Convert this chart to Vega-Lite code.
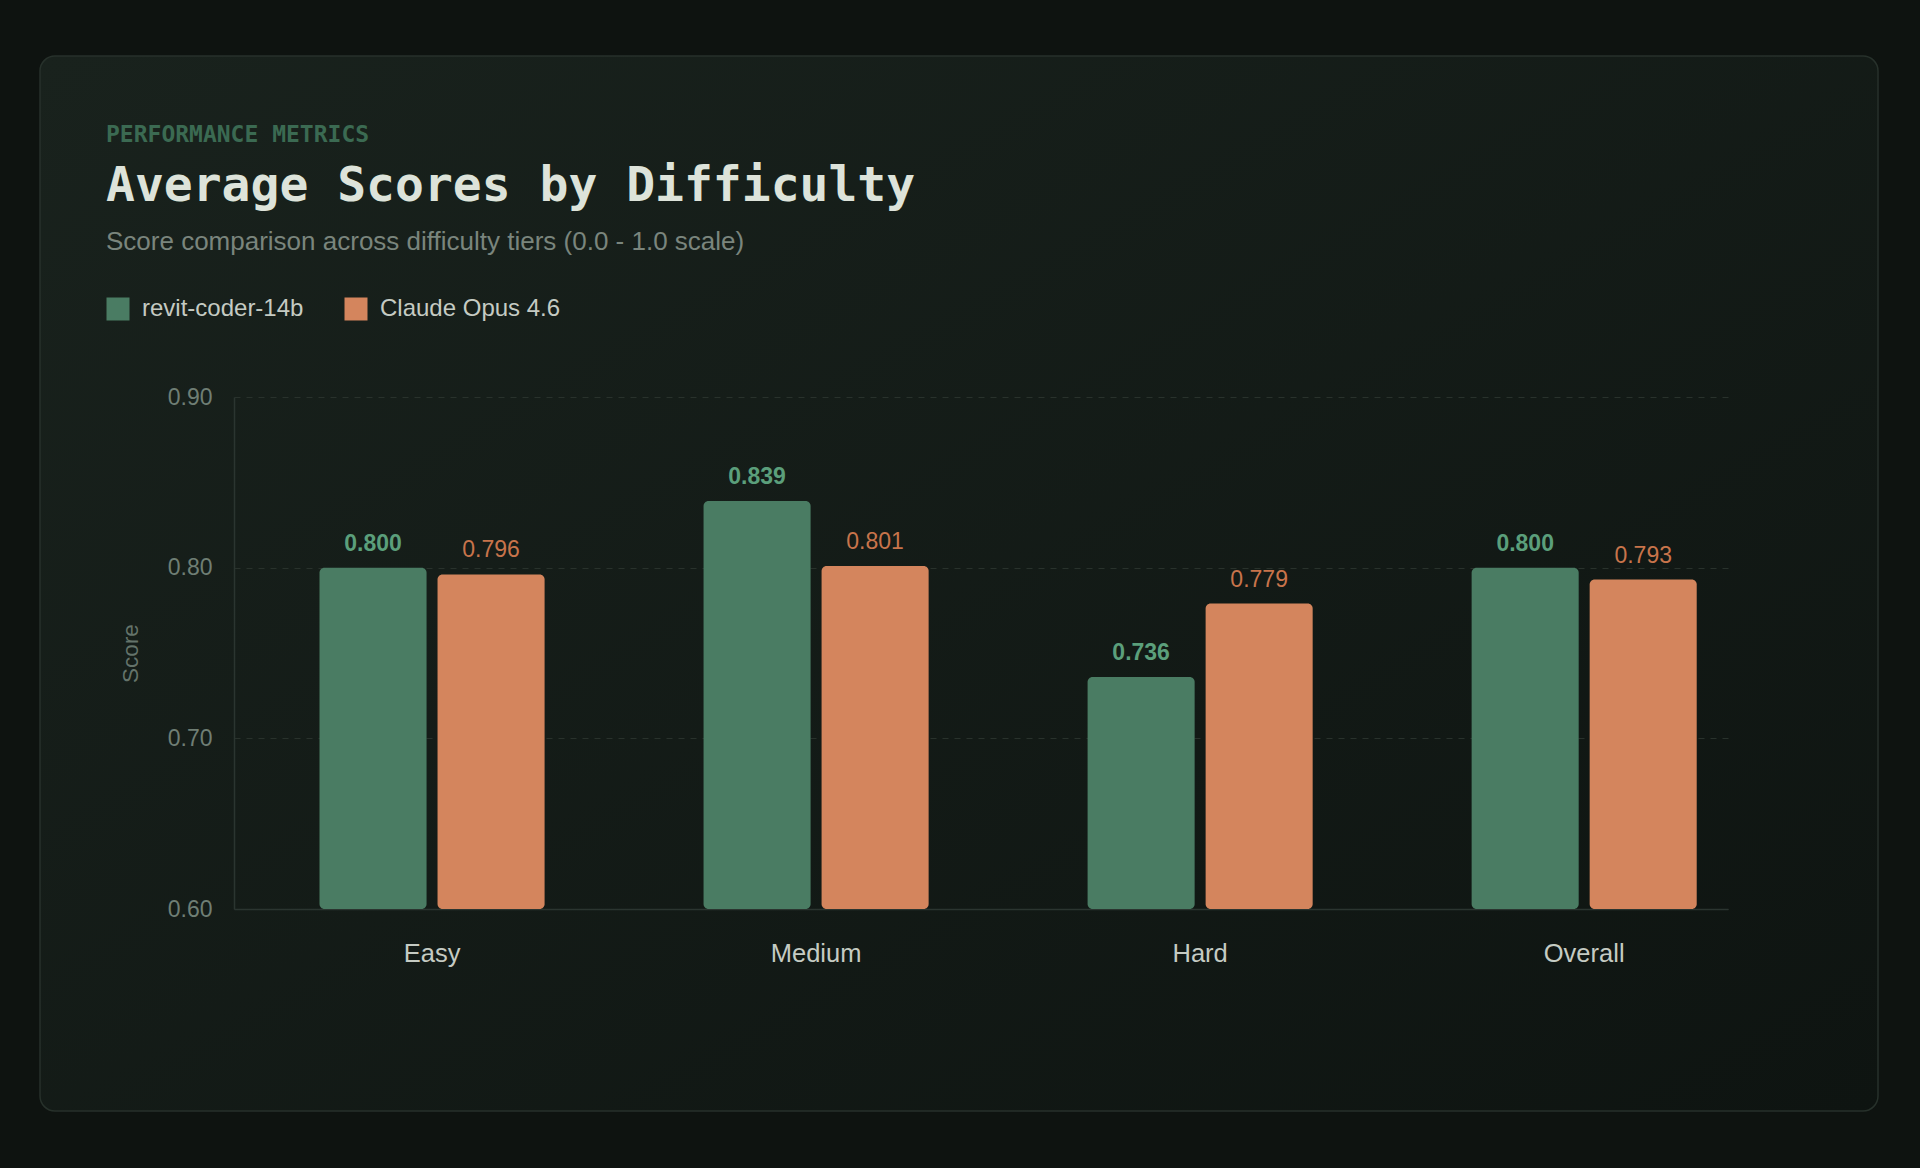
{
  "$schema": "https://vega.github.io/schema/vega-lite/v6.json",
  "width": 1838,
  "height": 1055,
  "autosize": {"type": "none"},
  "padding": {"left": 40, "top": 56, "right": 42, "bottom": 57},
  "background": "#0e1310",
  "title": {
    "text": "PERFORMANCE METRICS",
    "subtitle": "Average Scores by Difficulty",
    "anchor": "start",
    "frame": "group",
    "orient": "top",
    "offset": 0,
    "dx": 66,
    "dy": 155,
    "font": "DejaVu Sans Mono",
    "fontSize": 23,
    "fontWeight": "bold",
    "color": "#3b6a52",
    "subtitleFont": "DejaVu Sans Mono",
    "subtitleFontSize": 48,
    "subtitleFontWeight": "bold",
    "subtitleColor": "#dde3da",
    "subtitlePadding": 16
  },
  "data": {
    "values": [
      {"tier": "Easy", "model": "revit-coder-14b", "score": 0.800},
      {"tier": "Easy", "model": "Claude Opus 4.6", "score": 0.796},
      {"tier": "Medium", "model": "revit-coder-14b", "score": 0.839},
      {"tier": "Medium", "model": "Claude Opus 4.6", "score": 0.801},
      {"tier": "Hard", "model": "revit-coder-14b", "score": 0.736},
      {"tier": "Hard", "model": "Claude Opus 4.6", "score": 0.779},
      {"tier": "Overall", "model": "revit-coder-14b", "score": 0.800},
      {"tier": "Overall", "model": "Claude Opus 4.6", "score": 0.793}
    ]
  },
  "encoding": {
    "x": {
      "field": "tier",
      "type": "nominal",
      "sort": ["Easy", "Medium", "Hard", "Overall"],
      "scale": {"range": [194, 1688], "paddingInner": 0.251, "paddingOuter": 0.0706, "align": 1},
      "axis": {
        "title": null,
        "orient": "bottom",
        "offset": -202,
        "labelAngle": 0,
        "labelFontSize": 25.5,
        "labelColor": "#c5cbc3",
        "labelPadding": 32,
        "ticks": false,
        "tickSize": 0,
        "grid": false,
        "domain": true,
        "domainColor": "#2b3530",
        "domainWidth": 1.5
      }
    },
    "xOffset": {
      "field": "model",
      "type": "nominal",
      "sort": ["revit-coder-14b", "Claude Opus 4.6"],
      "scale": {"paddingInner": 0.093, "paddingOuter": 0.265}
    },
    "y": {
      "field": "score",
      "type": "quantitative",
      "scale": {"domain": [0.6, 0.9], "range": [853, 341], "zero": false, "nice": false},
      "axis": {
        "title": "Score",
        "orient": "left",
        "offset": -194,
        "values": [0.6, 0.7, 0.8, 0.9],
        "format": ".2f",
        "labelFontSize": 23,
        "labelColor": "#6f7e74",
        "labelPadding": 22,
        "ticks": false,
        "tickSize": 0,
        "titleFontSize": 22.5,
        "titleFontWeight": "normal",
        "titleColor": "#64736a",
        "titlePadding": 25,
        "grid": true,
        "gridColor": "#29322c",
        "gridDash": [6, 6],
        "gridWidth": 1.2,
        "domain": true,
        "domainColor": "#2b3530",
        "domainWidth": 1.5
      }
    }
  },
  "layer": [
    {
      "mark": {"type": "bar", "cornerRadius": 5},
      "encoding": {
        "y2": {"datum": 0.6},
        "color": {
          "field": "model",
          "type": "nominal",
          "sort": ["revit-coder-14b", "Claude Opus 4.6"],
          "scale": {"domain": ["revit-coder-14b", "Claude Opus 4.6"], "range": ["#4a7c63", "#d4855d"]},
          "legend": {
            "title": "Score comparison across difficulty tiers (0.0 - 1.0 scale)",
            "orient": "none",
            "legendX": 66,
            "legendY": 173,
            "direction": "horizontal",
            "titleFont": "Liberation Sans",
            "titleFontSize": 26,
            "titleFontWeight": "normal",
            "titleColor": "#7a857d",
            "titlePadding": 42,
            "titleLimit": 1000,
            "symbolType": "square",
            "symbolSize": 529,
            "symbolStrokeWidth": 0,
            "labelFontSize": 24,
            "labelColor": "#c5cbc3",
            "labelOffset": 12,
            "columnPadding": 40,
            "labelLimit": 400
          }
        }
      }
    },
    {
      "transform": [{"filter": "datum.model === 'revit-coder-14b'"}],
      "mark": {"type": "text", "baseline": "alphabetic", "dy": -17, "fontSize": 23, "fontWeight": "bold", "color": "#5b9f7b"},
      "encoding": {"text": {"field": "score", "type": "quantitative", "format": ".3f"}}
    },
    {
      "transform": [{"filter": "datum.model === 'Claude Opus 4.6'"}],
      "mark": {"type": "text", "baseline": "alphabetic", "dy": -17, "fontSize": 23, "fontWeight": "normal", "color": "#c8744b"},
      "encoding": {"text": {"field": "score", "type": "quantitative", "format": ".3f"}}
    }
  ],
  "config": {
    "font": "Liberation Sans",
    "view": {
      "fill": {
        "gradient": "linear",
        "x1": 0, "y1": 0, "x2": 1, "y2": 1,
        "stops": [{"offset": 0, "color": "#19221d"}, {"offset": 1, "color": "#0e1411"}]
      },
      "stroke": "#27312b",
      "strokeWidth": 1.5,
      "cornerRadius": 15
    }
  }
}
